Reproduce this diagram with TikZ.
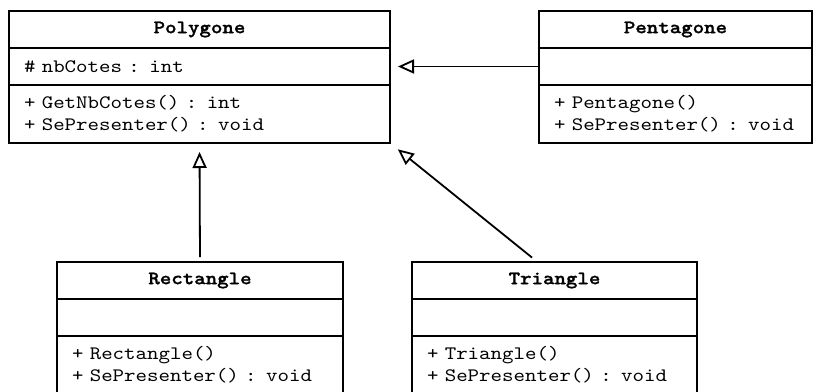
\documentclass[tikz,border=0pt]{standalone}
\usepackage{fontspec}
\setmonofont[FakeStretch=1.15,BoldFont=lmmonolt10-bold.otf,BoldFeatures={FakeBold=1.2}]{lmmono10-regular.otf}
\usetikzlibrary{arrows.meta,positioning,calc}

% fixed-pitch spaces, one character cell wide
\newcommand{\umlfont}{\ttfamily\fontsize{19}{22}\selectfont\spaceskip=\fontcharwd\font`x\relax}

\tikzset{
  cls/.style={draw,line width=2.2pt,outer sep=0pt,inner sep=0pt,font=\umlfont},
  clshead/.style={cls,minimum height=37pt,anchor=north west,font=\umlfont\bfseries},
  clsattr/.style={cls,minimum height=37pt,align=left,inner xsep=15pt},
  clsmeth/.style={cls,minimum height=58pt,align=left,inner xsep=15pt},
  inherit/.style={line width=1.8pt,-{Triangle[open,length=16pt,width=14pt]}},
}

\begin{document}
\begin{tikzpicture}[x=1pt,y=-1pt]
  \useasboundingbox (0,0) rectangle (816,391);
  \clip (0,0) rectangle (816,391);

  % base class
  \node[clshead,minimum width=381pt] (poly) at (9,11) {Polygone};
  \node[clsattr,text width=351pt,below=0pt of poly] (poly-a) {\# nbCotes : int};
  \node[clsmeth,text width=351pt,below=0pt of poly-a] (poly-m)
    {+ GetNbCotes() : int\\+ SePresenter() : void};

  % subclasses
  \node[clshead,minimum width=273pt] (pent) at (539,11) {Pentagone};
  \node[clsattr,text width=243pt,below=0pt of pent] (pent-a) {};
  \node[clsmeth,text width=243pt,below=0pt of pent-a] (pent-m)
    {+ Pentagone()\\+ SePresenter() : void};

  \node[clshead,minimum width=286pt] (rect) at (57,262) {Rectangle};
  \node[clsattr,text width=256pt,below=0pt of rect] (rect-a) {};
  \node[clsmeth,text width=256pt,below=0pt of rect-a] (rect-m)
    {+ Rectangle()\\+ SePresenter() : void};

  \node[clshead,minimum width=285pt] (tri) at (412,262) {Triangle};
  \node[clsattr,text width=255pt,below=0pt of tri] (tri-a) {};
  \node[clsmeth,text width=255pt,below=0pt of tri-a] (tri-m)
    {+ Triangle()\\+ SePresenter() : void};

  % generalisation arrows
  \draw[inherit,shorten >=8pt] (pent-a.west) -- (poly-a.east);
  \draw[inherit,shorten <=5pt,shorten >=9pt] (rect.north) -- (poly-m.south);
  \coordinate (tri-top) at ($(tri.north)+(-17,0)$);
  \draw[inherit,shorten <=7pt,shorten >=10pt] (tri-top) -- (poly-m.south east);
\end{tikzpicture}
\end{document}
